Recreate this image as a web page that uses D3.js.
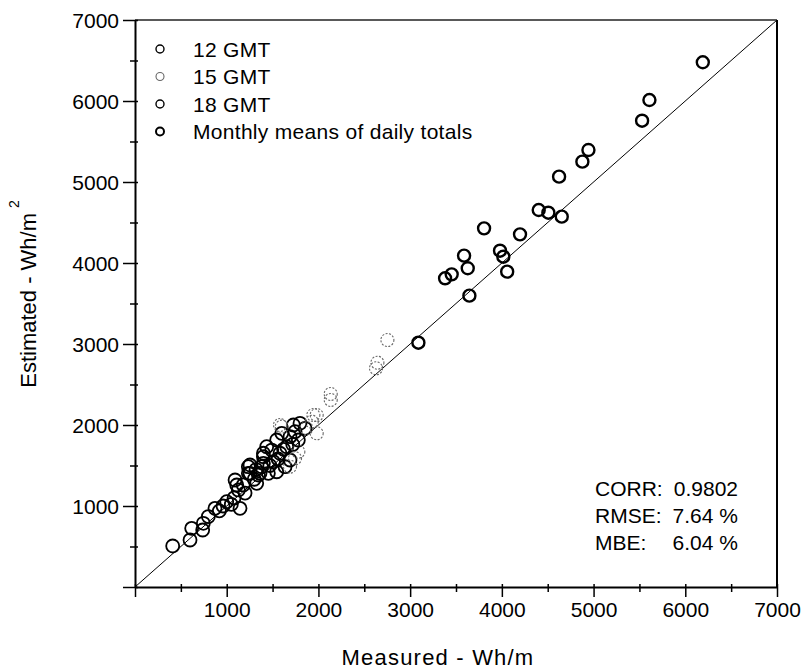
<!DOCTYPE html>
<html>
<head>
<meta charset="utf-8">
<script src="https://cdn.jsdelivr.net/npm/d3@7"></script>
<style>
  body { margin: 0; background: #fff; }
  text { font-family: "Liberation Sans", Arial, Helvetica, sans-serif; fill: #000; }
</style>
</head>
<body>
<div class="canvas"></div>
<script>
// hourly values, [measured, estimated]
const gmt12 = [
  [1854, 1959], [1799, 2021], [1745, 1917], [1727, 2000], [1690, 1856], [1781, 1815],
  [1600, 1897], [1654, 1732], [1545, 1815], [1491, 1691], [1581, 1651], [1400, 1609],
  [1381, 1485], [1509, 1547], [1636, 1485], [1690, 1568], [1454, 1404], [1545, 1423],
  [1436, 1732], [1400, 1651], [1720, 1760], [1560, 1580], [1470, 1500], [1620, 1700]
];
const gmt15 = [
  [2752, 3049], [2643, 2769], [2628, 2700], [2134, 2383], [2134, 2309], [1945, 2123],
  [1981, 2123], [1927, 2041], [1981, 1897], [1781, 1670], [1745, 1589], [1581, 2000],
  [1690, 1485], [1870, 1960], [1600, 1980]
];
const gmt18 = [
  [411, 506], [618, 724], [600, 580], [745, 786], [738, 704], [872, 971],
  [1000, 1053], [1145, 971], [1109, 1259], [1127, 1198], [1091, 1321], [1254, 1404],
  [1236, 1485], [1327, 1280], [1363, 1404], [1400, 1527], [1254, 1506], [1236, 1404],
  [1345, 1383], [920, 940], [1050, 1020], [1200, 1160], [1300, 1330], [800, 870],
  [960, 1000], [1180, 1260], [1080, 1100], [1320, 1450]
];
// monthly means of daily totals
const monthly = [
  [6191, 6478], [5609, 6012], [5529, 5757], [4944, 5395], [4878, 5251], [4624, 5066],
  [4402, 4654], [4507, 4621], [4653, 4572], [3806, 4428], [4198, 4354], [3980, 4152],
  [4016, 4078], [3588, 4091], [3628, 3935], [4058, 3893], [3453, 3860], [3381, 3811],
  [3646, 3597], [3090, 3016]
];

const seriesNames = ['12 GMT', '15 GMT', '18 GMT', 'Monthly means of daily totals'];
const majorTicks = [0, 1000, 2000, 3000, 4000, 5000, 6000, 7000];
const minorTicks = [500, 1500, 2500, 3500, 4500, 5500, 6500];
const statLabels = ['CORR:', 'RMSE:', 'MBE:'];
const statValues = ['0.9802', '7.64 %', '6.04 %'];

// plot box
const box = { left: 135, right: 777, top: 20, bottom: 587 };

const svg = d3.select('.canvas')
  .append('svg')
  .attr('width', 812)
  .attr('height', 669);

const x = d3.scaleLinear().domain([0, 7000]).range([box.left, box.right]);
const y = d3.scaleLinear().domain([0, 7000]).range([box.bottom, box.top]);

// marker styles per series
const styles = [
  { data: gmt12, stroke: '#000', width: 1.8, dash: null, r: 6.5 },
  { data: gmt15, stroke: '#666', width: 1.1, dash: '2,1.5', r: 6.5 },
  { data: gmt18, stroke: '#000', width: 1.8, dash: null, r: 6.5 },
  { data: monthly, stroke: '#000', width: 2.4, dash: null, r: 6 }
];

// 1:1 line
svg.append('line')
  .attr('x1', x(0)).attr('y1', y(0))
  .attr('x2', x(7000)).attr('y2', y(7000))
  .attr('stroke', '#000')
  .attr('stroke-width', 1);

// points
styles.forEach(s => {
  svg.append('g')
    .selectAll('circle')
    .data(s.data)
    .enter()
    .append('circle')
    .attr('cx', d => x(d[0]))
    .attr('cy', d => y(d[1]))
    .attr('r', s.r)
    .attr('fill', 'none')
    .attr('stroke', s.stroke)
    .attr('stroke-width', s.width)
    .attr('stroke-dasharray', s.dash);
});

// frame: top and right
svg.append('line')
  .attr('x1', box.left).attr('x2', box.right)
  .attr('y1', box.top).attr('y2', box.top)
  .attr('stroke', '#222').attr('stroke-width', 1.5);
svg.append('line')
  .attr('x1', box.right).attr('x2', box.right)
  .attr('y1', box.top).attr('y2', box.bottom)
  .attr('stroke', '#000').attr('stroke-width', 2);

// axes
const fmt = d => d === 0 ? '' : d;

const xAxis = svg.append('g')
  .attr('transform', `translate(0, ${box.bottom})`)
  .call(d3.axisBottom(x).tickValues(majorTicks).tickFormat(fmt).tickSize(10).tickSizeOuter(0));
xAxis.append('g')
  .call(d3.axisBottom(x).tickValues(minorTicks).tickFormat('').tickSize(5).tickSizeOuter(0))
  .select('.domain').remove();

const yAxis = svg.append('g')
  .attr('transform', `translate(${box.left}, 0)`)
  .call(d3.axisLeft(y).tickValues(majorTicks).tickFormat(fmt).tickSize(12).tickSizeOuter(0));
yAxis.append('g')
  .call(d3.axisLeft(y).tickValues(minorTicks).tickFormat('').tickSize(5).tickSizeOuter(0))
  .select('.domain').remove();

svg.selectAll('.domain').attr('stroke', '#000').attr('stroke-width', 2);
svg.selectAll('.tick line').attr('stroke', '#000').attr('stroke-width', 1.5);
// small inside part of ticks
xAxis.selectAll('.tick line').attr('y1', -3);
yAxis.selectAll('.tick line').attr('x1', 3);

xAxis.selectAll('.tick text')
  .attr('font-size', 21)
  .attr('y', 15)
  .attr('dy', '0.71em');
yAxis.selectAll('.tick text')
  .attr('font-size', 21)
  .attr('x', -16)
  .attr('dy', '0.36em');

// axis titles
svg.append('text')
  .attr('x', 438)
  .attr('y', 665)
  .attr('text-anchor', 'middle')
  .attr('font-size', 22)
  .style('letter-spacing', '1.2px')
  .text('Measured - Wh/m');

const yTitle = svg.append('text')
  .attr('transform', 'translate(36, 294) rotate(-90)')
  .attr('text-anchor', 'middle')
  .attr('font-size', 22);
yTitle.append('tspan').text('Estimated - Wh/m');
yTitle.append('tspan').attr('dy', -17).attr('dx', 5).attr('font-size', 14).text('2');

// legend
const legend = svg.append('g');
seriesNames.forEach((name, i) => {
  const s = styles[i];
  const cy = 49 + i * 27.5;
  legend.append('circle')
    .attr('cx', 160).attr('cy', cy).attr('r', 4)
    .attr('fill', 'none')
    .attr('stroke', s.stroke)
    .attr('stroke-width', i === 3 ? 2 : (i === 1 ? 1.1 : 1.4));
  legend.append('text')
    .attr('x', 193).attr('y', cy)
    .attr('dy', '0.36em')
    .attr('font-size', 21)
    .style('letter-spacing', '0.3px')
    .text(name);
});

// statistics
statLabels.forEach((lab, i) => {
  const ty = 488 + i * 27;
  svg.append('text')
    .attr('x', 595).attr('y', ty).attr('dy', '0.36em')
    .attr('font-size', 21)
    .text(lab);
  svg.append('text')
    .attr('x', 738).attr('y', ty).attr('dy', '0.36em')
    .attr('text-anchor', 'end')
    .attr('font-size', 21)
    .text(statValues[i]);
});
</script>
</body>
</html>
